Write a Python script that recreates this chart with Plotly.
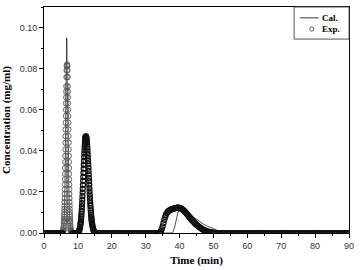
import plotly.graph_objects as go

# ---------------- Experimental data (Exp.) ----------------
# baseline sample times (min), concentration read as 0
exp_t_base = [0.0, 0.5, 1.0, 1.5, 2.0, 2.5, 3.0, 3.5, 4.0, 4.5, 5.0, 5.3, 5.5,
              8.5, 9.0, 9.5, 10.0,
              15.5, 16.0, 16.5, 17.0, 17.5, 18.0, 18.5, 19.0, 19.5, 20.0, 20.5, 21.0, 21.5,
              22.0, 22.5, 23.0, 23.5, 24.0, 24.5, 25.0, 25.5, 26.0, 26.5, 27.0, 27.5, 28.0,
              28.5, 29.0, 29.5, 30.0, 30.5, 31.0, 31.5, 32.0, 32.5, 33.0, 33.5,
              51.5, 52.0, 52.5, 53.0, 53.5, 54.0, 54.5, 55.0, 55.5, 56.0, 56.5, 57.0, 57.5,
              58.0, 58.5, 59.0, 59.5, 60.0, 60.5, 61.0, 61.5, 62.0, 62.5, 63.0, 63.5, 64.0,
              64.5, 65.0, 65.5, 66.0, 66.5, 67.0, 67.5, 68.0, 68.5, 69.0, 69.5, 70.0, 70.5,
              71.0, 71.5, 72.0, 72.5, 73.0, 73.5, 74.0, 74.5, 75.0, 75.5, 76.0, 76.5, 77.0,
              77.5, 78.0, 78.5, 79.0, 79.5, 80.0, 80.5, 81.0, 81.5, 82.0, 82.5, 83.0, 83.5,
              84.0, 84.5, 85.0, 85.5, 86.0, 86.5, 87.0, 87.5, 88.0, 88.5, 89.0, 89.5, 90.0]
exp_c_base = [0.0, 0.0, 0.0, 0.0, 0.0, 0.0, 0.0, 0.0, 0.0, 0.0, 0.0, 0.0, 0.0,
              0.0, 0.0, 0.0, 0.0,
              0.0, 0.0, 0.0, 0.0, 0.0, 0.0, 0.0, 0.0, 0.0, 0.0, 0.0, 0.0, 0.0,
              0.0, 0.0, 0.0, 0.0, 0.0, 0.0, 0.0, 0.0, 0.0, 0.0, 0.0, 0.0, 0.0,
              0.0, 0.0, 0.0, 0.0, 0.0, 0.0, 0.0, 0.0, 0.0, 0.0, 0.0,
              0.0, 0.0, 0.0, 0.0, 0.0, 0.0, 0.0, 0.0, 0.0, 0.0, 0.0, 0.0, 0.0,
              0.0, 0.0, 0.0, 0.0, 0.0, 0.0, 0.0, 0.0, 0.0, 0.0, 0.0, 0.0, 0.0,
              0.0, 0.0, 0.0, 0.0, 0.0, 0.0, 0.0, 0.0, 0.0, 0.0, 0.0, 0.0, 0.0,
              0.0, 0.0, 0.0, 0.0, 0.0, 0.0, 0.0, 0.0, 0.0, 0.0, 0.0, 0.0, 0.0,
              0.0, 0.0, 0.0, 0.0, 0.0, 0.0, 0.0, 0.0, 0.0, 0.0, 0.0, 0.0, 0.0,
              0.0, 0.0, 0.0, 0.0, 0.0, 0.0, 0.0, 0.0, 0.0, 0.0, 0.0, 0.0, 0.0]

# peak 1 (~6.8 min)
exp_t_p1 = [5.6, 5.7, 5.75, 5.8, 5.85, 5.9, 5.925, 5.95, 5.975, 6.0, 6.025, 6.05, 6.075,
            6.1, 6.125, 6.15, 6.175, 6.2, 6.225, 6.25, 6.275, 6.3, 6.325, 6.35, 6.375,
            6.4, 6.425, 6.45, 6.475, 6.5, 6.525, 6.55, 6.575, 6.6, 6.65, 6.7, 6.75, 6.8,
            6.85, 6.9, 6.95, 7.0, 7.025, 7.05, 7.075, 7.1, 7.125, 7.15, 7.175, 7.2, 7.225,
            7.25, 7.275, 7.3, 7.325, 7.35, 7.375, 7.4, 7.425, 7.45, 7.475, 7.5, 7.525,
            7.55, 7.575, 7.6, 7.625, 7.65, 7.675, 7.7, 7.75, 7.8, 7.85, 7.9, 7.95, 8.0,
            8.1, 8.2, 8.3]
exp_c_p1 = [0.0006, 0.0012, 0.0018, 0.0026, 0.0036, 0.0050, 0.0058, 0.0067, 0.0078, 0.0089,
            0.0102, 0.0117, 0.0133, 0.0150, 0.0169, 0.0190, 0.0212, 0.0236, 0.0261, 0.0288,
            0.0316, 0.0345, 0.0375, 0.0407, 0.0439, 0.0471, 0.0504, 0.0537, 0.0569, 0.0600,
            0.0631, 0.0660, 0.0688, 0.0714, 0.0759, 0.0792, 0.0813, 0.0820,
            0.0813, 0.0792, 0.0759, 0.0714, 0.0688, 0.0660, 0.0631, 0.0600, 0.0569, 0.0537,
            0.0504, 0.0471, 0.0439, 0.0407, 0.0375, 0.0345, 0.0316, 0.0288, 0.0261, 0.0236,
            0.0212, 0.0190, 0.0169, 0.0150, 0.0133, 0.0117, 0.0102, 0.0089, 0.0078, 0.0067,
            0.0058, 0.0050, 0.0036, 0.0026, 0.0018, 0.0013, 0.0009, 0.0006,
            0.0003, 0.0001, 0.0]

# peak 2 (~12.35 min)
exp_t_p2 = [10.2, 10.35, 10.45, 10.55, 10.65, 10.75, 10.8, 10.85, 10.9, 10.95, 11.0, 11.05,
            11.1, 11.15, 11.2, 11.25, 11.3, 11.35, 11.4, 11.45, 11.5, 11.55, 11.6, 11.65,
            11.7, 11.75, 11.8, 11.85, 11.9, 11.95, 12.0, 12.05, 12.1, 12.15, 12.2, 12.25,
            12.3, 12.35, 12.4, 12.45, 12.5, 12.55, 12.6, 12.65, 12.7, 12.75, 12.8, 12.85,
            12.9, 12.95, 13.0, 13.05, 13.1, 13.15, 13.2, 13.25, 13.3, 13.35, 13.4, 13.45,
            13.5, 13.55, 13.6, 13.65, 13.7, 13.75, 13.8, 13.85, 13.9, 13.95, 14.0, 14.05,
            14.1, 14.15, 14.2, 14.25, 14.35, 14.45, 14.55, 14.65, 14.8, 15.0]
exp_c_p2 = [0.0005, 0.0010, 0.0014, 0.0021, 0.0029, 0.0040, 0.0046, 0.0054, 0.0062, 0.0071,
            0.0081, 0.0092, 0.0104, 0.0117, 0.0131, 0.0146, 0.0162, 0.0179, 0.0197, 0.0215,
            0.0234, 0.0254, 0.0273, 0.0293, 0.0313, 0.0332, 0.0351, 0.0369, 0.0387, 0.0403,
            0.0418, 0.0431, 0.0443, 0.0452, 0.0460, 0.0466, 0.0469, 0.0470, 0.0469, 0.0467,
            0.0463, 0.0457, 0.0450, 0.0442, 0.0432, 0.0421, 0.0409, 0.0395, 0.0381, 0.0366,
            0.0351, 0.0335, 0.0318, 0.0302, 0.0285, 0.0268, 0.0252, 0.0235, 0.0219, 0.0203,
            0.0188, 0.0173, 0.0159, 0.0146, 0.0133, 0.0121, 0.0110, 0.0099, 0.0089, 0.0080,
            0.0071, 0.0064, 0.0056, 0.0050, 0.0044, 0.0039, 0.0030, 0.0022, 0.0016, 0.0012,
            0.0007, 0.0004]

# peak 3 (~39.5 min)
exp_t_p3 = [34.0, 34.25, 34.5, 34.75, 35.0, 35.25, 35.5, 35.75, 36.0, 36.25, 36.5, 36.75,
            37.0, 37.25, 37.5, 37.75, 38.0, 38.25, 38.5, 38.75, 39.0, 39.25, 39.5, 39.75,
            40.0, 40.25, 40.5, 40.75, 41.0, 41.25, 41.5, 41.75, 42.0, 42.25, 42.5, 42.75,
            43.0, 43.25, 43.5, 43.75, 44.0, 44.25, 44.5, 44.75, 45.0, 45.25, 45.5, 45.75,
            46.0, 46.25, 46.5, 46.75, 47.0, 47.25, 47.5, 47.75, 48.0, 48.25, 48.5, 48.75,
            49.0, 49.5, 50.0, 50.5, 51.0]
exp_c_p3 = [0.0, 0.0002, 0.0008, 0.0018, 0.0032, 0.0048, 0.0064, 0.0078, 0.0089, 0.0097,
            0.0103, 0.0107, 0.0110, 0.0112, 0.0114, 0.0116, 0.0117, 0.0119, 0.0120, 0.0121,
            0.0122, 0.0123, 0.0123, 0.0123, 0.0122, 0.0121, 0.0119, 0.0116, 0.0113, 0.0109,
            0.0105, 0.0101, 0.0096, 0.0091, 0.0086, 0.0081, 0.0076, 0.0071, 0.0066, 0.0061,
            0.0057, 0.0052, 0.0048, 0.0044, 0.0040, 0.0036, 0.0033, 0.0030, 0.0027, 0.0024,
            0.0021, 0.0018, 0.0016, 0.0014, 0.0012, 0.0010, 0.0009, 0.0007, 0.0006, 0.0005,
            0.0004, 0.0003, 0.0002, 0.0001, 0.0]

# ---------------- Calculated curve (Cal.) ----------------
cal_t = [0.0, 5.4, 5.8, 6.0, 6.2, 6.4, 6.55, 6.65, 6.7, 6.75, 6.85, 7.0, 7.2, 7.4, 7.6,
         7.8, 8.0, 10.0, 10.5, 11.0, 11.4, 11.7, 11.9, 12.2, 12.6, 13.0, 13.4, 13.8, 14.2,
         14.6, 15.0, 37.5, 38.0, 38.5, 39.0, 39.5, 40.0, 40.5, 41.0, 42.0, 43.0, 44.0, 45.0,
         46.0, 47.0, 48.0, 49.0, 50.0, 51.0, 52.0, 53.0, 54.0, 55.0, 56.0, 90.0]
cal_c = [0.0, 0.0, 0.002, 0.008, 0.025, 0.055, 0.080, 0.093, 0.095, 0.090, 0.075, 0.052,
         0.030, 0.015, 0.006, 0.002, 0.0, 0.0, 0.002, 0.012, 0.030, 0.045, 0.048, 0.046,
         0.038, 0.026, 0.015, 0.007, 0.003, 0.001, 0.0, 0.0, 0.0003, 0.0025, 0.0062, 0.0098,
         0.0116, 0.0118, 0.0114, 0.0102, 0.0089, 0.0077, 0.0065, 0.0054, 0.0044, 0.0035,
         0.0027, 0.0020, 0.0014, 0.0009, 0.0005, 0.0003, 0.0001, 0.0, 0.0]

x_ticks = [0, 10, 20, 30, 40, 50, 60, 70, 80, 90]
y_ticks = [0.00, 0.02, 0.04, 0.06, 0.08, 0.10]
legend_labels = ["Cal.", "Exp."]

exp_t_dark = exp_t_base + exp_t_p2 + exp_t_p3
exp_c_dark = exp_c_base + exp_c_p2 + exp_c_p3

fig = go.Figure()
fig.add_trace(go.Scatter(x=cal_t, y=cal_c, mode="lines", name=legend_labels[0],
                         line=dict(color="#222222", width=0.8), showlegend=False))
# first peak: lighter, individually visible circles
fig.add_trace(go.Scatter(x=exp_t_p1, y=exp_c_p1, mode="markers", name=legend_labels[1],
                         marker=dict(symbol="circle-open", size=5.5, color="#555555",
                                     line=dict(width=0.9, color="#555555")),
                         showlegend=False))
fig.add_trace(go.Scatter(x=exp_t_dark, y=exp_c_dark, mode="markers", name=legend_labels[1],
                         marker=dict(symbol="circle-open", size=5, color="#111111",
                                     line=dict(width=1.25, color="#111111")),
                         showlegend=False))

serif = "Liberation Serif"
sans = "Liberation Sans"

# hand-drawn legend box (paper coordinates)
shapes = [
    dict(type="rect", xref="paper", yref="paper", x0=0.82, x1=1.0, y0=0.858, y1=1.0,
         line=dict(color="#555555", width=1), fillcolor="white", layer="above"),
    dict(type="line", xref="paper", yref="paper", x0=0.839, x1=0.900, y0=0.952, y1=0.952,
         line=dict(color="#222222", width=0.9), layer="above"),
    dict(type="circle", xref="paper", yref="paper", x0=0.871, x1=0.885, y0=0.893, y1=0.912,
         line=dict(color="#333333", width=0.8), layer="above"),
]
annotations = [
    dict(text=legend_labels[0], xref="paper", yref="paper", x=0.904, y=0.952,
         xanchor="left", yanchor="middle", showarrow=False,
         font=dict(family=serif, size=9, color="black", weight="bold")),
    dict(text=legend_labels[1], xref="paper", yref="paper", x=0.904, y=0.902,
         xanchor="left", yanchor="middle", showarrow=False,
         font=dict(family=serif, size=9, color="black", weight="bold")),
]

fig.update_layout(
    width=360, height=270,
    margin=dict(l=43, r=6, t=7, b=33),
    paper_bgcolor="white", plot_bgcolor="white",
    showlegend=False,
    shapes=shapes, annotations=annotations,
)
fig.update_xaxes(
    range=[0, 90], tickvals=x_ticks, ticks="outside", ticklen=4, tickwidth=1,
    tickcolor="black", showline=True, linecolor="black", linewidth=1, mirror=True,
    showgrid=False, zeroline=False,
    tickfont=dict(family=sans, size=9, color="#333333"),
    minor=dict(ticks="outside", ticklen=2, dtick=5, tick0=0, tickcolor="black"),
    title=dict(text="Time (min)", standoff=6,
               font=dict(family=serif, size=11, color="black", weight="bold")),
)
fig.update_yaxes(
    range=[0, 0.11], tickvals=y_ticks, tickformat=".2f", ticks="outside", ticklen=4,
    tickwidth=1, tickcolor="black", showline=True, linecolor="black", linewidth=1,
    mirror=True, showgrid=False, zeroline=False,
    tickfont=dict(family=sans, size=9, color="#333333"),
    minor=dict(ticks="outside", ticklen=2, dtick=0.01, tick0=0, tickcolor="black"),
    title=dict(text="Concentration (mg/ml)", standoff=6,
               font=dict(family=serif, size=11, color="black", weight="bold")),
)

fig.write_html("out.html")
